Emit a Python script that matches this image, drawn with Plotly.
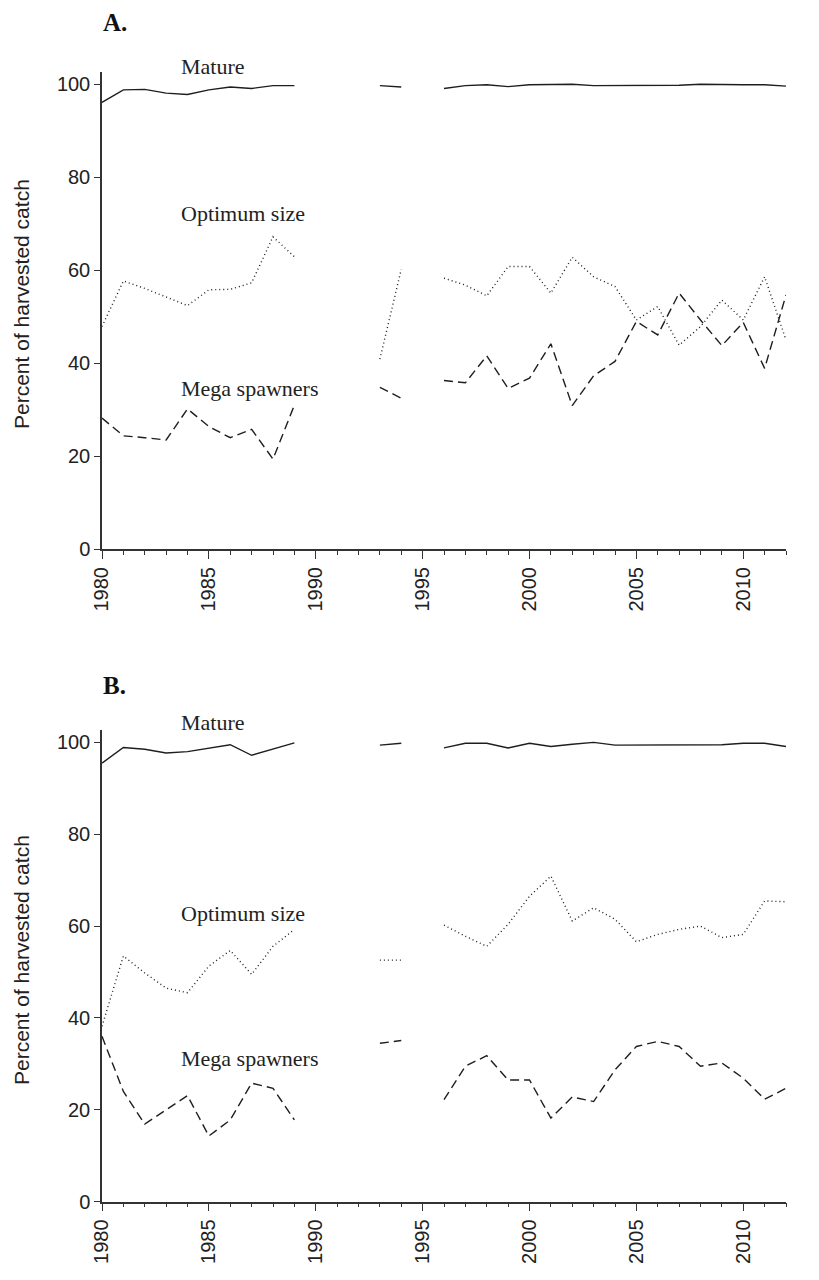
import plotly.graph_objects as go

years = list(range(1980, 2013))

# Panel A (None = no data)
a_mature = [96.1, 98.8, 98.9, 98.1, 97.8, 98.8, 99.4, 99.1, 99.7, 99.7,
            None, None, None, 99.7, 99.4, None,
            99.1, 99.7, 99.9, 99.5, 99.9, 99.9, 100.0, 99.7, 99.7, 99.8,
            99.8, 99.8, 100.0, 99.9, 99.9, 99.9, 99.6]
a_optimum = [47.9, 57.7, 56.1, 54.3, 52.4, 55.8, 55.9, 57.3, 67.2, 62.9,
             None, None, None, 40.9, 60.2, None,
             58.3, 56.8, 54.5, 60.8, 60.8, 55.1, 62.8, 58.6, 56.5, 49.3,
             52.2, 43.9, 47.9, 53.6, 49.3, 58.6, 45.0]
a_mega = [28.2, 24.4, 24.0, 23.5, 30.2, 26.4, 24.0, 25.8, 19.4, 31.0,
          None, None, None, 34.8, 32.5, None,
          36.3, 35.8, 41.6, 34.6, 36.8, 44.2, 30.9, 37.3, 40.4, 49.0,
          46.1, 55.1, 49.3, 43.8, 48.8, 38.9, 54.7]

# Panel B
b_mature = [95.5, 98.9, 98.5, 97.7, 98.0, 98.8, 99.5, 97.2, 98.5, 99.9,
            None, None, None, 99.4, 99.8, None,
            98.8, 99.8, 99.8, 98.8, 99.8, 99.1, 99.6, 100.0, 99.4, 99.4,
            99.4, 99.4, 99.4, 99.5, 99.8, 99.8, 99.1]
b_optimum = [38.2, 53.5, 49.8, 46.5, 45.5, 51.3, 54.7, 49.5, 55.6, 59.3,
             None, None, None, 52.6, 52.6, None,
             60.2, 57.8, 55.6, 60.4, 66.5, 70.9, 61.1, 64.0, 61.5, 56.6,
             58.2, 59.3, 60.0, 57.5, 58.2, 65.5, 65.3]
b_mega = [36.0, 24.0, 16.9, 20.0, 23.1, 14.3, 17.8, 25.8, 24.7, 17.8,
          None, None, None, 34.5, 35.1, None,
          22.2, 29.5, 31.8, 26.5, 26.5, 18.2, 22.8, 21.8, 28.7, 33.8,
          34.9, 33.8, 29.5, 30.2, 26.9, 22.3, 24.7]

series_names = ["Mature", "Optimum size", "Mega spawners"]
panel_labels = ["A.", "B."]
y_title = "Percent of harvested catch"
x_ticks = [1980, 1985, 1990, 1995, 2000, 2005, 2010]
y_ticks = [0, 20, 40, 60, 80, 100]

LINE = "#1e1e1e"
dashes = ["solid", "1px,3px", "9px,5px"]

fig = go.Figure()

panels = [(a_mature, a_optimum, a_mega), (b_mature, b_optimum, b_mega)]
axes = [("x", "y"), ("x2", "y2")]
for (ser, (xa, ya)) in zip(panels, axes):
    for vals, dash, name in zip(ser, dashes, series_names):
        fig.add_trace(go.Scatter(
            x=years, y=vals, mode="lines", name=name, xaxis=xa, yaxis=ya,
            connectgaps=False,
            line=dict(color=LINE, width=1.4, dash=dash),
            showlegend=False,
        ))

# page body adds an 8px margin; positions below are reference pixels minus OFF
OFF = 8
W, H = 819 - 2 * OFF, 1280 - 2 * OFF

def px(xp):
    return (xp - OFF) / W

def py(yp):
    return 1 - (yp - OFF) / H

xl, xr = px(102), px(786)
domA = [py(549.3), py(71.7)]
domB = [py(1201.7), py(730)]

tickfont = dict(family="Liberation Sans, Arial, sans-serif", size=20, color="#222")

def xaxis_cfg(anchor):
    return dict(
        domain=[xl, xr], range=[1980, 2012], anchor=anchor, automargin=False,
        showgrid=False, zeroline=False, showline=True, linecolor="#333", linewidth=1.5,
        tickmode="array", tickvals=x_ticks, ticktext=[str(t) for t in x_ticks],
        ticks="outside", ticklen=8, tickwidth=1.3, tickcolor="#333",
        tickangle=-90, tickfont=tickfont,
        minor=dict(dtick=1, tick0=1980, ticks="outside", ticklen=4, tickwidth=1, tickcolor="#333", showgrid=False),
    )

def yaxis_cfg(anchor, dom):
    return dict(
        domain=dom, range=[0, 102.7], anchor=anchor, automargin=False,
        showgrid=False, zeroline=False, showline=True, linecolor="#333", linewidth=1.5,
        tickmode="array", tickvals=y_ticks,
        ticks="outside", ticklen=6, tickwidth=1.3, tickcolor="#333",
        tickfont=tickfont,
    )

fig.update_layout(
    width=W, height=H,
    margin=dict(l=0, r=0, t=0, b=0),
    paper_bgcolor="white", plot_bgcolor="white",
    xaxis=xaxis_cfg("y"), yaxis=yaxis_cfg("x", domA),
    xaxis2=xaxis_cfg("y2"), yaxis2=yaxis_cfg("x2", domB),
)

# y-axis titles
for yc in [304, 960]:
    fig.add_annotation(x=px(21), y=py(yc), xref="paper", yref="paper", text=y_title,
                       textangle=-90, showarrow=False, xanchor="center", yanchor="middle",
                       font=dict(family="Liberation Sans, Arial, sans-serif", size=21, color="#222"))

serif = dict(family="Liberation Serif, Times New Roman, serif", size=22, color="#222")
label_pix = [[66, 214, 389], [722, 913, 1058]]
for ys in label_pix:
    for name, yp in zip(series_names, ys):
        fig.add_annotation(x=px(179), y=py(yp), xref="paper", yref="paper", text=name,
                           showarrow=False, xanchor="left", yanchor="middle", font=serif)

for lab, ypix in zip(panel_labels, [23, 685]):
    fig.add_annotation(x=px(101), y=py(ypix), xref="paper", yref="paper",
                       text="<b>%s</b>" % lab, showarrow=False, xanchor="left", yanchor="middle",
                       font=dict(family="Liberation Serif, Times New Roman, serif", size=25, color="#111"))

fig.write_html("out.html")
